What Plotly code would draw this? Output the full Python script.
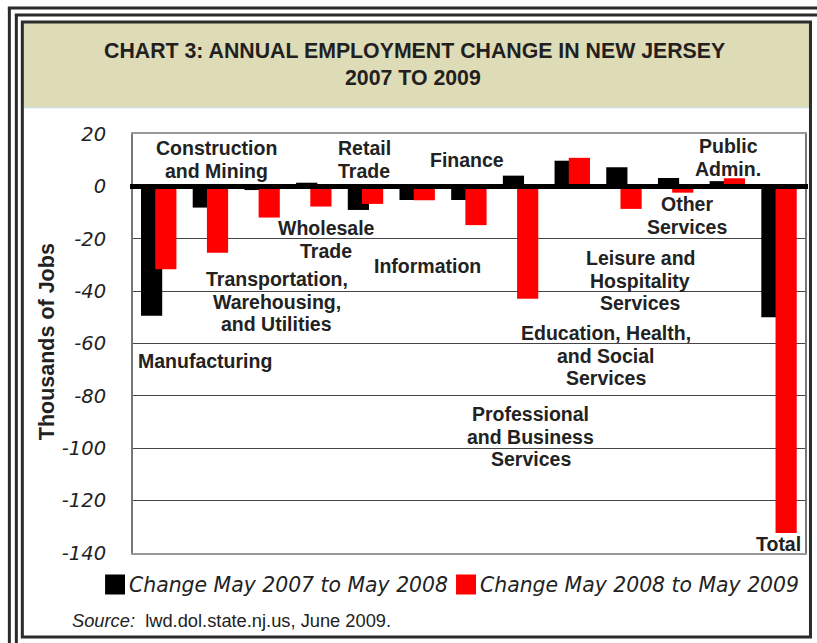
import plotly.graph_objects as go

# ---------------- data ----------------
categories = [
    "Manufacturing", "Construction and Mining",
    "Transportation, Warehousing, and Utilities", "Wholesale Trade",
    "Retail Trade", "Information", "Finance",
    "Professional and Business Services",
    "Education, Health, and Social Services",
    "Leisure and Hospitality Services", "Other Services",
    "Public Admin.", "Total",
]
change_2007_2008 = [-49.4, -8.1, -1.4, 1.4, -9.0, -5.2, -5.2, 4.1, 9.8, 7.3, 3.2, 2.0, -50.0]
change_2008_2009 = [-31.6, -25.3, -11.9, -7.7, -6.7, -5.3, -14.8, -42.9, 10.9, -8.6, -2.4, 3.1, -132.4]
series_names = ["Change May 2007 to May 2008", "Change May 2008 to May 2009"]
y_ticks = [20, 0, -20, -40, -60, -80, -100, -120, -140]

# ---------------- geometry helpers ----------------
W, H = 817, 643
L, R, T, B = 133, 807, 134, 553


def px(x):
    return (x - L) / (R - L)


def py(y):
    return (B - y) / (B - T)


fig = go.Figure()
fig.add_trace(go.Bar(x=categories, y=change_2007_2008, name=series_names[0],
                     marker=dict(color="#000000", line=dict(width=0)),
                     width=0.41, offset=-0.345))
fig.add_trace(go.Bar(x=categories, y=change_2008_2009, name=series_names[1],
                     marker=dict(color="#FF0000", line=dict(width=0)),
                     width=0.41, offset=-0.07))

label_font = dict(family="Liberation Sans, Arial, sans-serif", size=19.5, color="#222222")
labels = [
    # (lines, center x px, first line center y px, anchor)
    (["Construction", "and Mining"], 217, 148, "center"),
    (["Retail", "Trade"], 365, 148, "center"),
    (["Wholesale", "Trade"], 327, 228, "center"),
    (["Transportation,", "Warehousing,", "and Utilities"], 277, 279, "center"),
    (["Manufacturing"], 136.5, 360.5, "left"),
    (["Information"], 428, 266, "center"),
    (["Finance"], 468, 160, "center"),
    (["Public", "Admin."], 730, 146, "center"),
    (["Other", "Services"], 689, 204, "center"),
    (["Leisure and", "Hospitality", "Services"], 642, 258, "center"),
    (["Education, Health,", "and Social", "Services"], 607, 333, "center"),
    (["Professional", "and Business", "Services"], 532, 414, "center"),
    (["Total"], 805, 544, "right"),
]
annotations = []
for lines, cx, cy, anc in labels:
    for i, line in enumerate(lines):
        annotations.append(dict(text="<b>%s</b>" % line, x=px(cx), y=py(cy + i * 22.5),
                                xref="paper", yref="paper", xanchor=anc, yanchor="middle",
                                showarrow=False, font=label_font))

# title
title_font = dict(family="Liberation Sans, Arial, sans-serif", size=21.3, color="#231f20")
annotations.append(dict(text="<b>CHART 3: ANNUAL EMPLOYMENT CHANGE IN NEW JERSEY</b>",
                        x=px(415), y=py(51.5), xref="paper", yref="paper",
                        xanchor="center", yanchor="middle", showarrow=False, font=title_font))
annotations.append(dict(text="<b>2007 TO 2009</b>",
                        x=px(414), y=py(78), xref="paper", yref="paper",
                        xanchor="center", yanchor="middle", showarrow=False, font=title_font))
# y-axis title
annotations.append(dict(text="<b>Thousands of Jobs</b>", x=px(47), y=py(342),
                        xref="paper", yref="paper", xanchor="center", yanchor="middle",
                        textangle=-90, showarrow=False,
                        font=dict(family="Liberation Sans, Arial, sans-serif", size=21.5, color="#222222")))
# legend texts
leg_font = dict(family="DejaVu Sans, Verdana, sans-serif", size=20.4, color="#222222")
annotations.append(dict(text="<i>%s</i>" % series_names[0], x=px(127), y=py(585),
                        xref="paper", yref="paper", xanchor="left", yanchor="middle",
                        showarrow=False, font=leg_font))
annotations.append(dict(text="<i>%s</i>" % series_names[1], x=px(479), y=py(585),
                        xref="paper", yref="paper", xanchor="left", yanchor="middle",
                        showarrow=False, font=leg_font))
# source
annotations.append(dict(text="<i>Source:</i>\u00a0\u00a0lwd.dol.state.nj.us, June 2009.",
                        x=px(70), y=py(620), xref="paper", yref="paper",
                        xanchor="left", yanchor="middle", showarrow=False,
                        font=dict(family="Liberation Sans, Arial, sans-serif", size=18.3, color="#222222")))

dark = "#2b2b2b"
shapes = [
    # beige title band
    dict(type="rect", xref="paper", yref="paper", x0=px(23), x1=px(811), y0=py(107), y1=py(23),
         fillcolor="#DEDBB7", line=dict(width=0), layer="below"),
    dict(type="line", xref="paper", yref="paper", x0=px(23), x1=px(811), y0=py(107.5), y1=py(107.5),
         line=dict(color="#cfe0dc", width=1.5), layer="below"),
    # inner box
    dict(type="rect", xref="paper", yref="paper", x0=px(22), x1=px(812.5), y0=py(637), y1=py(22),
         line=dict(color=dark, width=3), layer="above"),
    # outer page frame lines
    dict(type="line", xref="paper", yref="paper", x0=px(9), x1=px(9), y0=py(7.5), y1=py(660),
         line=dict(color=dark, width=3)),
    dict(type="line", xref="paper", yref="paper", x0=px(7.5), x1=px(840), y0=py(8), y1=py(8),
         line=dict(color=dark, width=3)),
    dict(type="line", xref="paper", yref="paper", x0=px(16), x1=px(16), y0=py(14.5), y1=py(660),
         line=dict(color=dark, width=3)),
    dict(type="line", xref="paper", yref="paper", x0=px(14.5), x1=px(840), y0=py(15), y1=py(15),
         line=dict(color=dark, width=3)),
    # zero line across the plot
    dict(type="line", xref="paper", yref="y", x0=px(130), x1=px(810), y0=0, y1=0,
         line=dict(color="#000000", width=5), layer="above"),
    # legend swatches
    dict(type="rect", xref="paper", yref="paper", x0=px(105), x1=px(125), y0=py(594.5), y1=py(574.5),
         fillcolor="#000000", line=dict(width=0)),
    dict(type="rect", xref="paper", yref="paper", x0=px(457), x1=px(477), y0=py(594.5), y1=py(574.5),
         fillcolor="#FF0000", line=dict(width=0)),
]

fig.update_layout(
    width=W, height=H,
    margin=dict(l=L, r=W - R, t=T, b=H - B, pad=0),
    paper_bgcolor="white", plot_bgcolor="white",
    barmode="overlay", showlegend=False,
    annotations=annotations, shapes=shapes,
    xaxis=dict(range=[-0.5, 12.5], showticklabels=False, ticks="", showgrid=False,
               showline=True, linecolor="#999999", linewidth=2, mirror=True, zeroline=False),
    yaxis=dict(range=[-140, 20], tickvals=y_ticks, ticktext=[str(v) for v in y_ticks],
               showgrid=True, gridcolor="#444444", gridwidth=1, zeroline=False,
               showline=True, linecolor="#777777", linewidth=2, mirror=True, ticks="",
               ticklabelstandoff=21,
               tickfont=dict(family="DejaVu Sans, Verdana, sans-serif", size=19.5, color="#222222",
                             style="italic")),
)

fig.write_html("out.html", config={"displayModeBar": False},
               post_script="document.body.style.margin='0';document.body.style.overflow='hidden';")
